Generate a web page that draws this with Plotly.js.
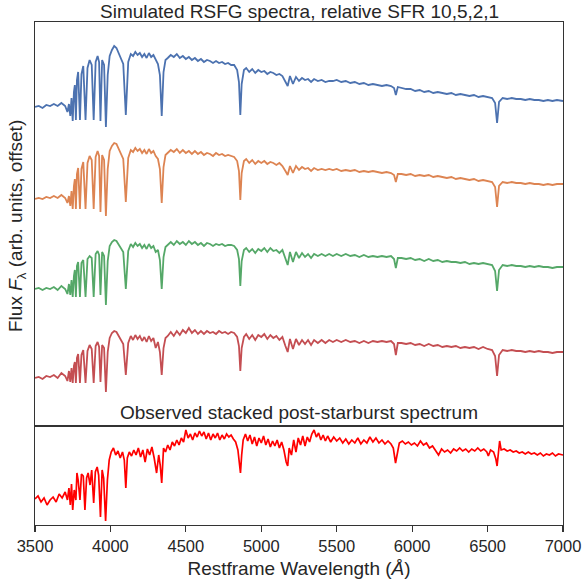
<!DOCTYPE html>
<html>
<head>
<meta charset="utf-8">
<script src="https://cdn.plot.ly/plotly-3.0.1.min.js"></script>
<style>html,body{margin:0;padding:0;background:#fff;}#chart{width:584px;height:582px;}</style>
</head>
<body>
<div id="chart"></div>
<script>
// Wavelength grid (Angstrom) for the simulated spectra
const simWave = [3500,3525,3550,3575,3600,3625,3650,3675,3700,3715,3725,3734,3742,3750,3758,3764,3771,3778,3786,3798,3808,3820,3835,3848,3862,3876,3889,3902,3915,3925,3934,3945,3958,3970,3982,3995,4010,4025,4040,4055,4070,4085,4102,4118,4135,4150,4165,4180,4195,4210,4225,4240,4255,4270,4285,4300,4315,4328,4340,4352,4365,4380,4400,4420,4440,4460,4480,4500,4520,4540,4560,4580,4600,4620,4640,4660,4680,4700,4720,4740,4760,4780,4800,4820,4840,4852,4861,4870,4885,4900,4920,4940,4960,4980,5000,5020,5040,5060,5080,5100,5120,5140,5160,5175,5190,5210,5230,5250,5270,5290,5310,5330,5350,5375,5400,5425,5450,5475,5500,5530,5560,5590,5620,5650,5680,5710,5740,5770,5800,5830,5860,5880,5892,5905,5930,5960,5990,6020,6050,6080,6110,6140,6170,6200,6230,6260,6290,6320,6350,6380,6410,6440,6470,6500,6530,6550,6563,6576,6600,6630,6660,6690,6720,6750,6780,6810,6840,6870,6900,6930,6960,7000];

// Simulated RSFG spectra (arb. units), relative SFR 10, 5, 2, 1
const fluxSFR10 = [0.49,0.50,0.48,0.51,0.50,0.52,0.50,0.53,0.50,0.44,0.52,0.40,0.58,0.35,0.64,0.71,0.36,0.76,0.84,0.36,0.82,0.90,0.36,0.88,0.96,0.91,0.36,0.94,1.00,0.94,0.35,0.96,0.91,0.29,0.81,1.00,1.06,1.10,1.08,1.03,0.98,0.92,0.41,0.94,1.02,1.00,1.04,1.01,1.03,0.99,1.02,0.98,1.03,0.99,1.01,0.96,0.92,0.81,0.40,0.84,0.96,0.98,1.01,0.99,1.02,0.98,1.00,0.97,0.99,0.96,0.98,0.95,0.97,0.94,0.96,0.95,0.93,0.95,0.93,0.94,0.92,0.93,0.91,0.91,0.86,0.74,0.41,0.72,0.86,0.88,0.84,0.87,0.83,0.86,0.84,0.85,0.82,0.84,0.83,0.81,0.82,0.80,0.74,0.70,0.80,0.72,0.79,0.75,0.78,0.76,0.77,0.74,0.77,0.75,0.76,0.74,0.75,0.75,0.76,0.74,0.75,0.73,0.74,0.72,0.73,0.71,0.72,0.71,0.70,0.71,0.70,0.68,0.61,0.69,0.68,0.67,0.67,0.65,0.66,0.64,0.65,0.63,0.64,0.63,0.62,0.63,0.61,0.62,0.61,0.60,0.61,0.59,0.60,0.59,0.58,0.53,0.33,0.54,0.58,0.57,0.58,0.57,0.57,0.56,0.57,0.56,0.56,0.55,0.56,0.55,0.56,0.55];
const fluxSFR5 = [0.47,0.48,0.47,0.49,0.48,0.50,0.48,0.51,0.48,0.43,0.50,0.40,0.55,0.37,0.60,0.67,0.37,0.72,0.78,0.37,0.77,0.84,0.37,0.83,0.90,0.86,0.37,0.89,0.95,0.90,0.34,0.91,0.86,0.30,0.77,0.95,1.00,1.03,1.02,0.97,0.93,0.87,0.44,0.88,0.96,0.94,0.98,0.95,0.97,0.93,0.96,0.92,0.97,0.93,0.95,0.90,0.87,0.77,0.43,0.79,0.91,0.93,0.96,0.94,0.97,0.93,0.96,0.93,0.95,0.92,0.95,0.92,0.94,0.91,0.93,0.92,0.90,0.93,0.91,0.92,0.90,0.91,0.90,0.89,0.85,0.75,0.46,0.73,0.85,0.87,0.83,0.86,0.82,0.85,0.83,0.85,0.82,0.84,0.83,0.81,0.83,0.80,0.75,0.71,0.80,0.73,0.80,0.76,0.79,0.77,0.78,0.75,0.78,0.76,0.77,0.76,0.77,0.76,0.77,0.75,0.76,0.75,0.76,0.74,0.75,0.74,0.75,0.74,0.73,0.74,0.73,0.71,0.64,0.72,0.72,0.71,0.72,0.70,0.71,0.70,0.71,0.69,0.70,0.69,0.68,0.69,0.67,0.68,0.67,0.66,0.67,0.65,0.66,0.65,0.64,0.59,0.39,0.60,0.64,0.63,0.64,0.63,0.63,0.62,0.63,0.62,0.62,0.61,0.62,0.61,0.62,0.62];
const fluxSFR2 = [0.47,0.48,0.46,0.48,0.47,0.49,0.46,0.50,0.47,0.42,0.52,0.41,0.56,0.39,0.60,0.66,0.39,0.70,0.74,0.39,0.73,0.76,0.39,0.77,0.80,0.78,0.39,0.82,0.85,0.81,0.41,0.84,0.80,0.31,0.75,0.90,0.94,0.96,0.95,0.91,0.88,0.84,0.47,0.85,0.92,0.89,0.93,0.90,0.92,0.88,0.91,0.87,0.92,0.88,0.90,0.84,0.86,0.76,0.47,0.79,0.89,0.91,0.94,0.91,0.95,0.92,0.94,0.91,0.95,0.92,0.94,0.91,0.93,0.90,0.93,0.92,0.90,0.92,0.91,0.92,0.90,0.91,0.91,0.90,0.86,0.77,0.50,0.75,0.86,0.88,0.84,0.87,0.83,0.87,0.85,0.88,0.84,0.88,0.85,0.86,0.83,0.86,0.77,0.71,0.84,0.74,0.84,0.78,0.83,0.79,0.82,0.78,0.82,0.80,0.82,0.80,0.82,0.80,0.82,0.80,0.82,0.80,0.81,0.79,0.81,0.79,0.80,0.79,0.80,0.79,0.80,0.77,0.68,0.78,0.78,0.77,0.78,0.76,0.77,0.75,0.77,0.75,0.76,0.74,0.75,0.74,0.74,0.73,0.74,0.72,0.73,0.72,0.73,0.72,0.71,0.65,0.45,0.66,0.71,0.70,0.71,0.70,0.70,0.69,0.70,0.69,0.70,0.69,0.69,0.68,0.69,0.69];
const fluxSFR1 = [0.48,0.49,0.47,0.50,0.49,0.51,0.48,0.53,0.50,0.45,0.55,0.44,0.58,0.43,0.60,0.64,0.43,0.68,0.72,0.43,0.71,0.76,0.43,0.75,0.81,0.77,0.43,0.80,0.84,0.79,0.44,0.81,0.78,0.34,0.74,0.88,0.93,0.95,0.94,0.90,0.87,0.82,0.51,0.83,0.90,0.86,0.91,0.87,0.90,0.85,0.89,0.84,0.90,0.85,0.88,0.78,0.84,0.74,0.51,0.78,0.88,0.90,0.94,0.90,0.95,0.91,0.96,0.93,0.98,0.93,0.96,0.92,0.95,0.92,0.95,0.93,0.94,0.92,0.95,0.93,0.94,0.92,0.94,0.93,0.89,0.80,0.55,0.78,0.89,0.92,0.87,0.91,0.86,0.91,0.89,0.92,0.87,0.91,0.88,0.90,0.86,0.89,0.80,0.74,0.87,0.77,0.87,0.81,0.86,0.82,0.86,0.81,0.86,0.83,0.86,0.83,0.86,0.84,0.86,0.84,0.86,0.84,0.85,0.83,0.85,0.83,0.85,0.84,0.85,0.84,0.85,0.82,0.71,0.83,0.83,0.82,0.83,0.81,0.82,0.80,0.82,0.80,0.81,0.79,0.80,0.79,0.80,0.78,0.79,0.78,0.79,0.77,0.79,0.77,0.76,0.70,0.50,0.71,0.76,0.75,0.76,0.75,0.75,0.74,0.75,0.74,0.75,0.74,0.74,0.73,0.74,0.74];

// Vertical offsets between the simulated spectra (arb. units)
const simOffsets = [2.7, 1.8, 0.9, 0.0];
const simNames = ["SFR 10", "SFR 5", "SFR 2", "SFR 1"];

// Observed stacked post-starburst spectrum
const obsWave = [3500,3520,3540,3560,3580,3600,3620,3640,3660,3680,3700,3715,3725,3734,3742,3750,3760,3771,3778,3786,3798,3808,3820,3831,3842,3852,3865,3876,3889,3900,3912,3922,3934,3945,3955,3968,3980,3992,4005,4020,4035,4050,4065,4080,4092,4102,4112,4125,4140,4155,4170,4185,4200,4215,4230,4245,4260,4275,4290,4306,4320,4330,4340,4352,4365,4380,4395,4410,4425,4440,4455,4470,4485,4500,4515,4530,4545,4560,4575,4590,4605,4620,4635,4650,4665,4680,4695,4710,4725,4740,4755,4770,4785,4800,4815,4830,4845,4855,4862,4870,4880,4895,4910,4925,4940,4955,4970,4985,5000,5015,5030,5045,5060,5075,5090,5105,5120,5135,5150,5165,5175,5185,5200,5215,5230,5245,5260,5275,5290,5305,5320,5335,5350,5365,5380,5395,5410,5425,5440,5460,5480,5500,5520,5540,5560,5580,5600,5620,5640,5660,5680,5700,5720,5740,5760,5780,5800,5820,5840,5860,5875,5890,5900,5915,5935,5955,5975,5995,6015,6035,6055,6075,6095,6115,6135,6155,6175,6195,6215,6235,6255,6275,6295,6315,6335,6355,6375,6395,6415,6435,6455,6475,6495,6505,6520,6540,6555,6563,6570,6580,6590,6610,6630,6650,6670,6690,6710,6730,6750,6770,6790,6810,6830,6850,6870,6890,6910,6930,6950,6970,7000];
const obsFlux = [0.26,0.29,0.23,0.27,0.20,0.25,0.28,0.23,0.31,0.27,0.33,0.25,0.37,0.20,0.41,0.15,0.35,0.25,0.52,0.45,0.25,0.51,0.49,0.15,0.47,0.52,0.40,0.55,0.22,0.53,0.58,0.50,0.08,0.55,0.47,0.04,0.45,0.65,0.73,0.77,0.70,0.74,0.67,0.73,0.65,0.37,0.67,0.73,0.69,0.75,0.70,0.77,0.68,0.75,0.63,0.76,0.70,0.78,0.67,0.52,0.70,0.60,0.42,0.77,0.73,0.80,0.75,0.83,0.79,0.85,0.80,0.87,0.83,0.95,0.87,0.91,0.85,0.92,0.88,0.94,0.89,0.93,0.86,0.92,0.85,0.91,0.87,0.92,0.85,0.90,0.86,0.91,0.88,0.90,0.86,0.83,0.75,0.63,0.52,0.70,0.85,0.91,0.84,0.90,0.81,0.88,0.79,0.87,0.82,0.89,0.80,0.86,0.78,0.84,0.79,0.85,0.77,0.83,0.75,0.63,0.59,0.77,0.70,0.85,0.73,0.87,0.80,0.89,0.79,0.88,0.83,0.91,0.95,0.88,0.92,0.85,0.90,0.84,0.89,0.83,0.88,0.84,0.87,0.82,0.86,0.81,0.85,0.82,0.87,0.81,0.85,0.82,0.88,0.83,0.87,0.82,0.85,0.81,0.84,0.81,0.77,0.62,0.70,0.82,0.84,0.81,0.83,0.80,0.82,0.79,0.84,0.80,0.82,0.77,0.79,0.75,0.70,0.76,0.73,0.75,0.72,0.76,0.74,0.77,0.74,0.76,0.73,0.76,0.74,0.77,0.74,0.76,0.73,0.69,0.75,0.73,0.66,0.59,0.73,0.84,0.75,0.76,0.74,0.75,0.73,0.74,0.72,0.73,0.71,0.73,0.71,0.72,0.70,0.72,0.69,0.71,0.70,0.72,0.69,0.71,0.70];

const xTicks = [3500,4000,4500,5000,5500,6000,6500,7000];

const simColors = ["#4C72B0", "#DD8452", "#55A868", "#C44E52"];
const obsColor = "#FF0000";

const simFluxes = [fluxSFR10, fluxSFR5, fluxSFR2, fluxSFR1];
const traces = simFluxes.map((f, i) => ({
  x: simWave,
  y: f.map(v => v + simOffsets[i]),
  type: "scatter", mode: "lines", name: simNames[i],
  line: {color: simColors[i], width: 1.8},
  xaxis: "x2", yaxis: "y2", hoverinfo: "skip"
}));
traces.push({
  x: obsWave, y: obsFlux, type: "scatter", mode: "lines", name: "Observed",
  line: {color: obsColor, width: 1.7}, xaxis: "x", yaxis: "y", hoverinfo: "skip"
});

const frame = "#333333";
const font = "Liberation Sans, Arial, sans-serif";
const split = 99/503;

const layout = {
  width: 584, height: 582,
  margin: {l: 35, r: 21, t: 22, b: 57},
  paper_bgcolor: "#ffffff", plot_bgcolor: "#ffffff",
  showlegend: false,
  font: {family: font, color: "#262626"},
  xaxis: {
    domain: [0, 1], range: [3500, 7000], anchor: "y",
    tickvals: xTicks, ticktext: xTicks.map(String),
    ticks: "outside", ticklen: 6, tickwidth: 1.25, tickcolor: frame,
    tickfont: {size: 16.5, family: font, color: "#262626"},
    showline: true, mirror: true, linecolor: frame, linewidth: 1.25,
    showgrid: false, zeroline: false,
    title: {text: "Restframe Wavelength (<i>Å</i>)", font: {size: 19, family: font, color: "#262626"}, standoff: 7}
  },
  yaxis: {
    domain: [0, split], range: [0, 0.99], anchor: "x",
    showticklabels: false, ticks: "", showgrid: false, zeroline: false,
    showline: true, mirror: true, linecolor: frame, linewidth: 1.25
  },
  xaxis2: {
    domain: [0, 1], range: [3500, 7000], anchor: "y2", matches: "x",
    showticklabels: false, ticks: "", showgrid: false, zeroline: false,
    showline: true, mirror: true, linecolor: frame, linewidth: 1.25
  },
  yaxis2: {
    domain: [split, 1], range: [0, 4.04], anchor: "x2",
    showticklabels: false, ticks: "", showgrid: false, zeroline: false,
    showline: true, mirror: true, linecolor: frame, linewidth: 1.25
  },
  annotations: [
    {text: "Simulated RSFG spectra, relative SFR 10,5,2,1", xref: "paper", yref: "paper",
     x: 0.5, y: (525 - 12) / 503, xanchor: "center", yanchor: "middle", showarrow: false,
     font: {size: 19, family: font, color: "#262626"}},
    {text: "Observed stacked post-starburst spectrum", xref: "paper", yref: "paper",
     x: 0.5, y: (525 - 412) / 503, xanchor: "center", yanchor: "middle", showarrow: false,
     font: {size: 19, family: font, color: "#262626"}},
    {text: "Flux <i>F</i><sub>λ</sub> (arb. units, offset)", xref: "paper", yref: "paper",
     x: (17 - 35) / 528, y: (525 - 226) / 503, xanchor: "center", yanchor: "middle",
     textangle: -90, showarrow: false,
     font: {size: 19, family: font, color: "#262626"}}
  ]
};

Plotly.newPlot("chart", traces, layout, {staticPlot: true, displayModeBar: false});
</script>
</body>
</html>
